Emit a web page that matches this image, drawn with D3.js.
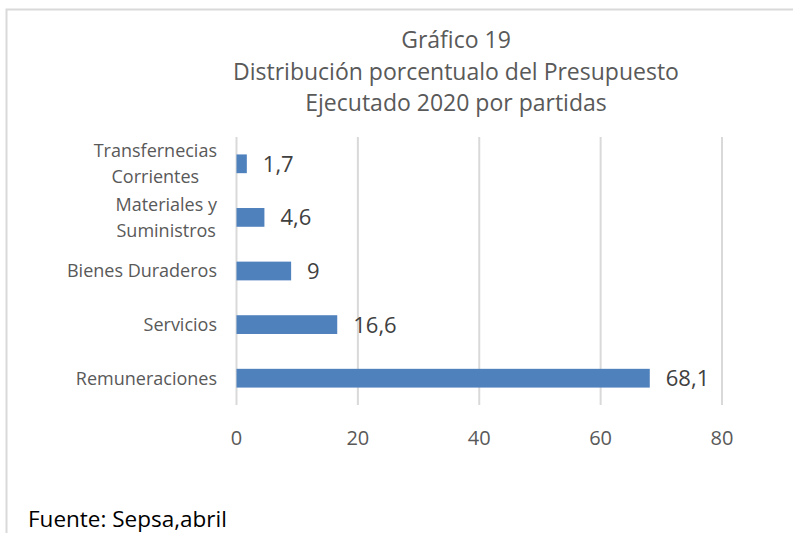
<!DOCTYPE html>
<html>
<head>
<meta charset="utf-8">
<script src="https://cdn.jsdelivr.net/npm/d3@7"></script>
<style>
  body { margin: 0; background: #fff; }
  text { font-family: "Open Sans", "Noto Sans", sans-serif; }
</style>
</head>
<body>
<div id="chart"></div>
<script>
// data, top to bottom as shown
const categories = [["Transfernecias", "Corrientes"], ["Materiales y", "Suministros"], ["Bienes Duraderos"], ["Servicios"], ["Remuneraciones"]]
const values = [1.7, 4.6, 9, 16.6, 68.1]
const valueLabels = ["1,7", "4,6", "9", "16,6", "68,1"]
const xTicks = [0, 20, 40, 60, 80]
const titleLines = ["Gráfico 19", "Distribución porcentualo del Presupuesto", "Ejecutado 2020 por partidas"]

const W = 793, H = 533
const svg = d3.select("#chart").append("svg")
    .attr("width", W)
    .attr("height", H)

// chart frame (only left and top visible)
svg.append("rect")
    .attr("x", 6.5).attr("y", 9.5)
    .attr("width", 820).attr("height", 600)
    .attr("fill", "none")
    .attr("stroke", "#d9d9d9")
    .attr("stroke-width", 2)

const margin = {top: 137, left: 236.5}
const plotW = 485.5, plotH = 268

const x = d3.scaleLinear().domain([0, 80]).range([margin.left, margin.left + plotW])
const y = d3.scaleBand().domain(d3.range(categories.length))
    .range([margin.top, margin.top + plotH])
    .paddingInner(0.65).paddingOuter(0.325)

// gridlines
svg.append("g").selectAll("line")
    .data(xTicks)
    .join("line")
    .attr("x1", d => x(d)).attr("x2", d => x(d))
    .attr("y1", margin.top).attr("y2", margin.top + plotH)
    .attr("stroke", "#d9d9d9")
    .attr("stroke-width", 2)

// x tick labels
svg.append("g").selectAll("text")
    .data(xTicks)
    .join("text")
    .attr("x", d => x(d))
    .attr("y", 445)
    .attr("text-anchor", "middle")
    .attr("fill", "#595959")
    .attr("font-size", 20)
    .text(d => d)

// bars
svg.append("g").selectAll("rect")
    .data(values)
    .join("rect")
    .attr("x", x(0))
    .attr("y", (d, i) => y(i))
    .attr("width", d => x(d) - x(0))
    .attr("height", y.bandwidth())
    .attr("fill", "#4f81bd")

// value labels
svg.append("g").selectAll("text")
    .data(values)
    .join("text")
    .attr("x", d => x(d) + 16)
    .attr("y", (d, i) => y(i) + y.bandwidth() / 2)
    .attr("dy", "0.36em")
    .attr("fill", "#404040")
    .attr("font-size", 22)
    .text((d, i) => valueLabels[i])

// category labels, wrapped ones centred in a block right-aligned at the axis
const labelRight = 217
const cat = svg.append("g").selectAll("text")
    .data(categories)
    .join("text")
    .attr("text-anchor", "middle")
    .attr("fill", "#595959")
    .attr("font-size", 18)
cat.each(function(d, i) {
    const t = d3.select(this)
    const cy = y(i) + y.bandwidth() / 2
    if (d.length === 1) {
        t.attr("text-anchor", "end").attr("x", labelRight).attr("y", cy).attr("dy", "0.36em").text(d[0])
    } else {
        const spans = d.map((line, k) => t.append("tspan")
            .attr("y", cy)
            .attr("dy", k === 0 ? "-0.36em" : "1.08em")
            .text(line))
        const maxW = d3.max(spans, s => s.node().getComputedTextLength())
        spans.forEach(s => s.attr("x", labelRight - maxW / 2))
    }
})

// title
svg.append("g").selectAll("text")
    .data(titleLines)
    .join("text")
    .attr("x", 456)
    .attr("y", (d, i) => 48 + i * 31.5)
    .attr("text-anchor", "middle")
    .attr("fill", "#595959")
    .attr("font-size", 23)
    .text(d => d)

// source
svg.append("text")
    .attr("x", 28)
    .attr("y", 527)
    .attr("fill", "#000")
    .attr("font-size", 22.5)
    .text("Fuente: Sepsa,abril")
</script>
</body>
</html>
